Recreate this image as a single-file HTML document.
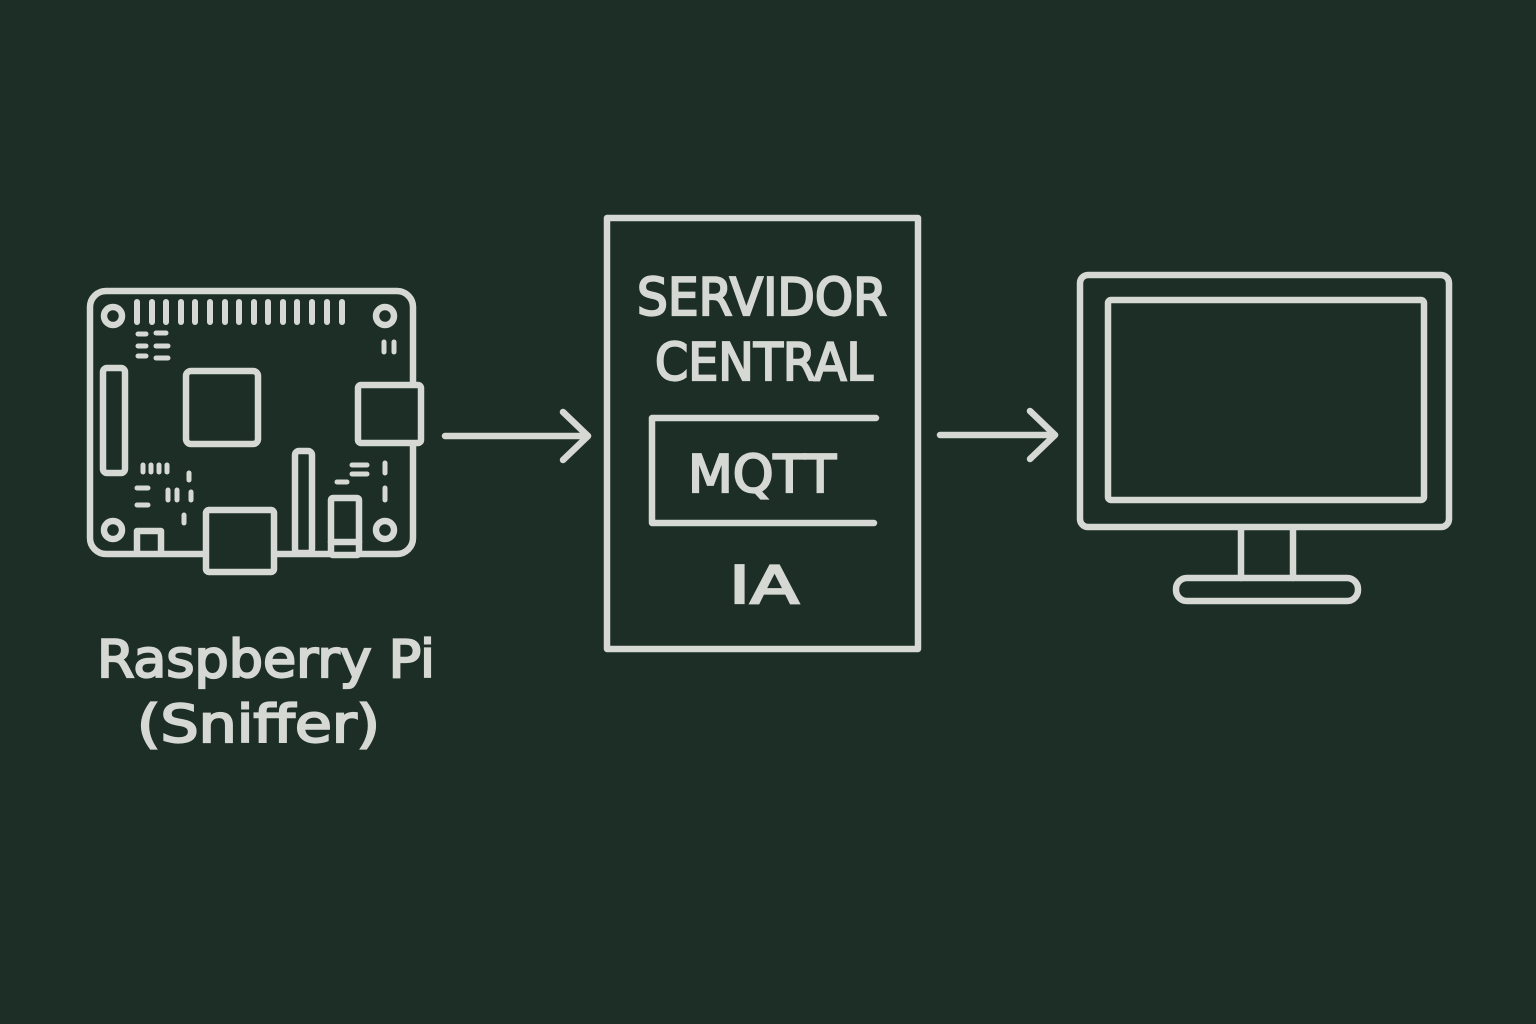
<!DOCTYPE html>
<html><head><meta charset="utf-8"><style>
html,body{margin:0;padding:0;background:#1c2e25;}
svg{display:block}
text{font-family:"DejaVu Sans","Liberation Sans",sans-serif;fill:#d6d9d3;stroke:#d6d9d3;stroke-width:2.2;}
</style></head><body>
<svg width="1536" height="1024" viewBox="0 0 1536 1024" xmlns="http://www.w3.org/2000/svg">
<rect width="1536" height="1024" fill="#1c2e25"/>
<g fill="none" stroke="#d6d9d3" stroke-width="6.5" stroke-linecap="round" stroke-linejoin="round">
<rect x="90" y="291" width="323" height="263" rx="16"/>
<circle cx="113" cy="316" r="9"/><circle cx="385" cy="316" r="9"/>
<circle cx="113" cy="530" r="9"/><circle cx="385" cy="530" r="9"/>
<g stroke-width="6">
<line x1="137" y1="302" x2="137" y2="322"/><line x1="152" y1="302" x2="152" y2="322"/><line x1="166" y1="302" x2="166" y2="322"/><line x1="181" y1="302" x2="181" y2="322"/><line x1="195" y1="302" x2="195" y2="322"/><line x1="210" y1="302" x2="210" y2="322"/><line x1="225" y1="302" x2="225" y2="322"/><line x1="239" y1="302" x2="239" y2="322"/><line x1="254" y1="302" x2="254" y2="322"/><line x1="268" y1="302" x2="268" y2="322"/><line x1="283" y1="302" x2="283" y2="322"/><line x1="297" y1="302" x2="297" y2="322"/><line x1="312" y1="302" x2="312" y2="322"/><line x1="327" y1="302" x2="327" y2="322"/><line x1="342" y1="302" x2="342" y2="322"/>
</g>
<g stroke-width="5">
<line x1="138" y1="334" x2="146" y2="334"/><line x1="156" y1="333" x2="166" y2="333"/>
<line x1="138" y1="346" x2="146" y2="346"/><line x1="156" y1="346" x2="168" y2="346"/>
<line x1="138" y1="356" x2="146" y2="356"/><line x1="156" y1="358" x2="168" y2="358"/>
<line x1="384" y1="342" x2="384" y2="352"/><line x1="394" y1="342" x2="394" y2="352"/>
<line x1="143" y1="465" x2="143" y2="472"/><line x1="151" y1="465" x2="151" y2="472"/><line x1="159" y1="465" x2="159" y2="472"/><line x1="167" y1="465" x2="167" y2="472"/>
<line x1="137" y1="488" x2="148" y2="488"/><line x1="137" y1="505" x2="148" y2="505"/>
<line x1="168" y1="490" x2="168" y2="500"/><line x1="177" y1="490" x2="177" y2="500"/>
<line x1="189" y1="473" x2="189" y2="480"/><line x1="191" y1="492" x2="191" y2="500"/><line x1="184" y1="515" x2="184" y2="523"/>
<line x1="352" y1="465" x2="367" y2="465"/><line x1="352" y1="474" x2="367" y2="474"/><line x1="337" y1="482" x2="347" y2="482"/>
<line x1="385" y1="463" x2="385" y2="473"/><line x1="385" y1="488" x2="385" y2="500"/>
<line x1="391" y1="398" x2="405" y2="398"/><line x1="391" y1="415" x2="405" y2="415"/><line x1="391" y1="430" x2="405" y2="430"/>
</g>
<rect x="103" y="368" width="22" height="105" rx="4"/>
<rect x="186" y="371" width="72" height="73" rx="5"/>
<rect x="358" y="385" width="63" height="58" rx="3" fill="#1c2e25"/>
<rect x="206" y="510" width="68" height="62" rx="3" fill="#1c2e25"/>
<path d="M137 552 V531 H161 V552"/>
<rect x="295" y="451" width="17" height="102" rx="4"/>
<rect x="331" y="498" width="28" height="57" rx="2" fill="#1c2e25"/>
<line x1="331" y1="542" x2="359" y2="542"/>
<line x1="445" y1="436" x2="588" y2="436"/><path d="M563 412 L588 436 L563 460"/>
<line x1="940" y1="435" x2="1055" y2="435"/><path d="M1030 411 L1055 435 L1030 459"/>
<rect x="607" y="218" width="311" height="431"/>
<path d="M876 418 H652 V523 H874"/>
<rect x="1080" y="275" width="369" height="252" rx="8"/>
<rect x="1108" y="300" width="316" height="200" rx="3"/>
<path d="M1241 528 V578 M1293 528 V578"/>
<rect x="1176" y="578" width="182" height="23" rx="11"/>
</g>
<text x="97" y="677" font-size="52" textLength="338" lengthAdjust="spacingAndGlyphs">Raspberry Pi</text>
<text x="137" y="742" font-size="52" textLength="243" lengthAdjust="spacingAndGlyphs">(Sniffer)</text>
<text x="637" y="315" font-size="52" textLength="250" lengthAdjust="spacingAndGlyphs">SERVIDOR</text>
<text x="655" y="380" font-size="52" textLength="218" lengthAdjust="spacingAndGlyphs">CENTRAL</text>
<text x="688" y="492" font-size="52" textLength="148" lengthAdjust="spacingAndGlyphs">MQTT</text>
<text x="729" y="603" font-size="52" textLength="70" lengthAdjust="spacingAndGlyphs">IA</text>
</svg>
</body></html>
